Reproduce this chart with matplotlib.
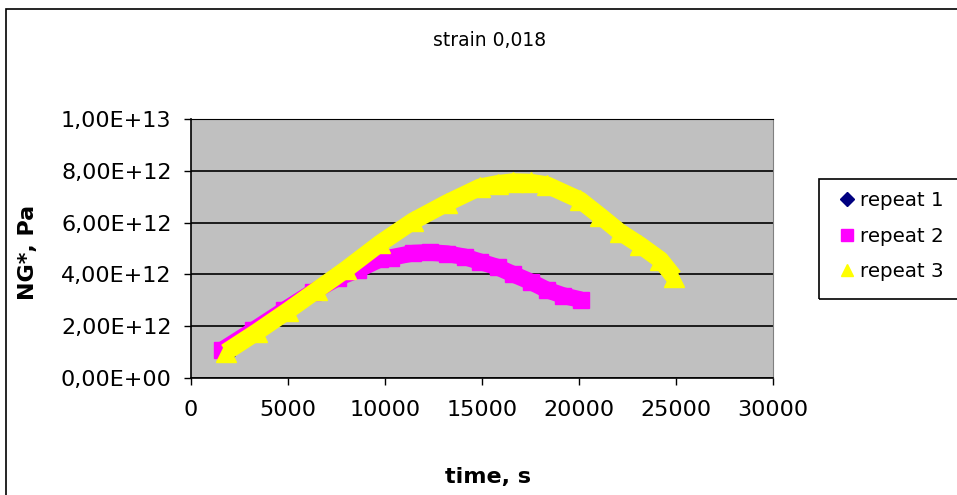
"""
NG* vs time for three repeats at strain 0,018
"""
import matplotlib
matplotlib.use('Agg')
import matplotlib.pyplot as plt
from matplotlib.lines import Line2D
from matplotlib.patches import Rectangle
from matplotlib.ticker import FuncFormatter, MultipleLocator

plt.rcParams['font.family'] = ['DejaVu Sans']

# repeat 1 (only the first reading shows, the rest lies under the other repeats)
time_r1 = [1900]
ng_r1 = [0.88e12]

# repeat 2
time_r2 = [1600, 3200, 4800, 6300, 7600, 8600, 9750, 10300, 11450, 12300,
           13200, 14100, 14900, 15800, 16600, 17500, 18350, 19200, 20100]
ng_r2 = [1.08e12, 1.84e12, 2.62e12, 3.33e12, 3.88e12, 4.17e12, 4.59e12, 4.65e12,
         4.82e12, 4.85e12, 4.80e12, 4.68e12, 4.49e12, 4.28e12, 4.01e12, 3.72e12,
         3.40e12, 3.18e12, 3.02e12]

# repeat 3
time_r3 = [1800, 3400, 5000, 6500, 8000, 9750, 11450, 13200, 14900, 15800,
           16600, 17500, 18350, 20050, 21100, 22100, 23150, 24200, 24900]
ng_r3 = [1.00e12, 1.78e12, 2.60e12, 3.40e12, 4.20e12, 5.20e12, 6.06e12, 6.76e12,
         7.37e12, 7.50e12, 7.57e12, 7.55e12, 7.45e12, 6.87e12, 6.25e12, 5.64e12,
         5.13e12, 4.56e12, 3.90e12]

labels = ['repeat 1', 'repeat 2', 'repeat 3']

W, H = 957, 495
fig = plt.figure(figsize=(W / 100, H / 100), dpi=100)

# outer chart frame (right and bottom edges fall outside the image)
fig.patches.append(Rectangle((6 / W, -0.2), 1.3, 1.2 - 9 / H, transform=fig.transFigure,
                             fill=False, edgecolor='black', linewidth=1.2))

ax = fig.add_axes([191 / W, 1 - 378 / H, 582 / W, 259 / H])
ax.set_facecolor('#C0C0C0')

ax.plot(time_r1, ng_r1, color='#000080', marker='D', markersize=7, linestyle='none')
ax.plot(time_r2, ng_r2, color='#FF00FF', linewidth=12, marker='s', markersize=11,
        solid_joinstyle='round', solid_capstyle='butt')
ax.plot(time_r3, ng_r3, color='#FFFF00', linewidth=12.5, marker='^', markersize=14,
        solid_joinstyle='round', solid_capstyle='butt')

ax.set_xlim(0, 30000)
ax.set_ylim(0, 1e13)
ax.xaxis.set_major_locator(MultipleLocator(5000))
ax.yaxis.set_major_locator(MultipleLocator(2e12))
ax.yaxis.set_major_formatter(FuncFormatter(lambda v, p: f'{v:.2E}'.replace('.', ',')))

ax.grid(True, axis='y', color='black', linewidth=1.2)
ax.set_axisbelow(True)
ax.tick_params(axis='both', direction='out', length=5, width=1, labelsize=16)
ax.tick_params(axis='y', pad=9)
ax.tick_params(axis='x', pad=11)

for side in ['left', 'bottom']:
    ax.spines[side].set_color('black')
    ax.spines[side].set_linewidth(1.2)
ax.spines['top'].set_color('black')
ax.spines['right'].set_color('#808080')

fig.text(490 / W, 1 - 40 / H, 'strain 0,018', ha='center', va='center', fontsize=13.5)
fig.text(488 / W, 1 - 477 / H, 'time, s', ha='center', va='center',
         fontsize=16, fontweight='bold')
fig.text(28 / W, 1 - 252 / H, 'NG*, Pa', ha='center', va='center',
         fontsize=16, fontweight='bold', rotation=90)

# legend with square frame running off the right edge
fig.patches.append(Rectangle((819 / W, 1 - 299 / H), 1.0, 120 / H, transform=fig.transFigure,
                             fill=False, edgecolor='black', linewidth=1.2))
handles = [
    Line2D([], [], color='#000080', marker='D', markersize=7, linestyle='none'),
    Line2D([], [], color='#FF00FF', marker='s', markersize=8, linestyle='none'),
    Line2D([], [], color='#FFFF00', marker='^', markersize=9, linestyle='none'),
]
fig.legend(handles, labels, loc='upper left', bbox_to_anchor=(839 / W, 1 - 191 / H),
           frameon=False, fontsize=14.3, borderpad=0, borderaxespad=0,
           handlelength=0.8, handletextpad=0.25, labelspacing=0.84)

plt.savefig('out.png', dpi=100)
plt.close(fig)
